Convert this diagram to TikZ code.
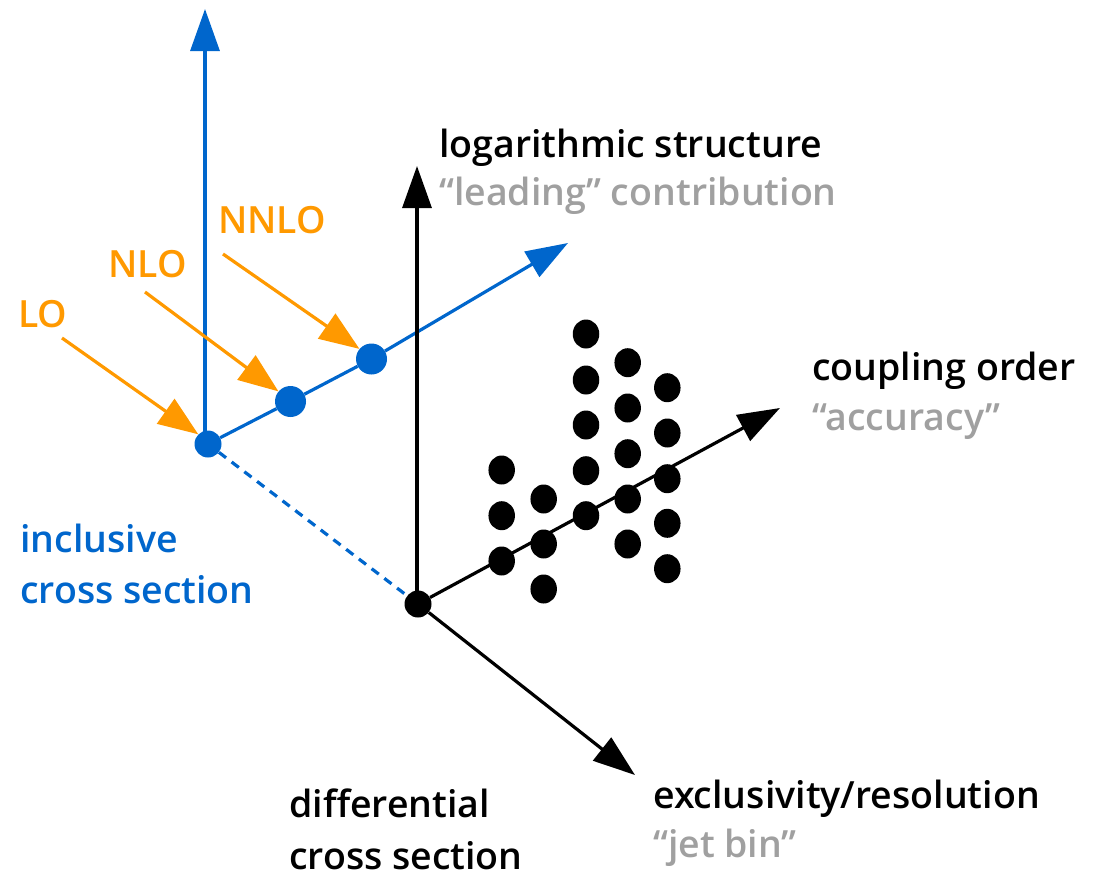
\documentclass[tikz,border=0pt]{standalone}
\usepackage{fontspec}
\setmainfont{Open Sans}[UprightFont={* Semibold}]
\usetikzlibrary{arrows.meta,shapes.geometric}
\definecolor{cblue}{RGB}{0,102,204}
\definecolor{corange}{RGB}{255,153,0}
\definecolor{cgray}{RGB}{160,160,160}
\begin{document}
\begin{tikzpicture}[x=1pt,y=-1pt,
  lbl/.style={font=\fontsize{37.5}{44}\selectfont, inner sep=0pt, anchor=base west},
  bdot/.style={ellipse, fill=black, minimum width=26.5pt, minimum height=29pt, inner sep=0pt},
  bldot/.style={circle, fill=cblue, minimum size=#1, inner sep=0pt},
  axis/.style={line width=3.2pt, -{Triangle[length=42pt,width=29pt]}},
  oarr/.style={line width=3.2pt, corange, -{Triangle[length=40pt,width=30pt]}}]
\useasboundingbox (0,0) rectangle (1096,878);
% blue system
\node[bldot=27pt] (bo) at (208,444) {};
\node[bldot=31pt] (b1) at (290.5,401.5) {};
\node[bldot=31pt] (b2) at (371.5,359) {};
\coordinate (bup) at (205,9);
\coordinate (bdiag) at (568,243);
% black system
\node[circle, fill=black, minimum size=27pt, inner sep=0pt] (ko) at (418,604) {};
\coordinate (kup) at (417,166);
\coordinate (kdiag) at (780,408);
\coordinate (kdown) at (635,775);
\draw[cblue, line width=3.2pt, dash pattern=on 9pt off 7pt] (bo) -- (ko);
\draw[axis, cblue] (205,444) -- (bup);
\draw[cblue, line width=3.2pt] (bo) -- (b1) -- (b2);
\draw[axis, cblue] (b2) -- (bdiag);
\draw[axis] (417,604) -- (kup);
\draw[axis] (ko) -- (kdiag);
\draw[axis] (ko) -- (kdown);
% dots
\foreach \x/\y/\n in {501.7/470/a1,501.7/515.7/a2,501.7/561/a3,
  543.7/499/c1,543.7/544/c2,543.7/589/c3,
  586/334/d1,586/380/d2,586/425/d3,586/470.7/d4,586/515.7/d5,
  627.7/362.7/e1,627.7/408/e2,627.7/453.7/e3,627.7/499/e4,627.7/544/e5,
  667.3/387.7/f1,667.3/433/f2,667.3/478.7/f3,667.3/523.3/f4,667.3/568.7/f5}
  \node[bdot] (\n) at (\x,\y) {};
% orange labels and arrows
\node[lbl, corange] (lo) at (18,327) {LO};
\node[lbl, corange] (nlo) at (108,277) {NLO};
\node[lbl, corange] (nnlo) at (218,233) {NNLO};
\coordinate (lo0) at (62,338);
\coordinate (nlo0) at (145,292);
\coordinate (nnlo0) at (223,254);
\draw[oarr] (lo0) -- (bo.135);
\draw[oarr] (nlo0) -- (b1.140);
\draw[oarr] (nnlo0) -- (b2.140);
% axis labels
\node[lbl] (log) at (439,157) {logarithmic structure};
\node[lbl, cgray] (lead) at (439,205) {“leading” contribution};
\node[lbl] (coup) at (812,380) {coupling order};
\node[lbl, cgray] (acc) at (812,430) {“accuracy”};
\node[lbl, cblue] (incl1) at (20,552) {inclusive};
\node[lbl, cblue] (incl2) at (20,603) {cross section};
\node[lbl] (diff1) at (289,817) {differential};
\node[lbl] (diff2) at (289,869) {cross section};
\node[lbl] (excl) at (653,808) {exclusivity/resolution};
\node[lbl, cgray] (jet) at (653,857) {“jet bin”};
\end{tikzpicture}
\end{document}
